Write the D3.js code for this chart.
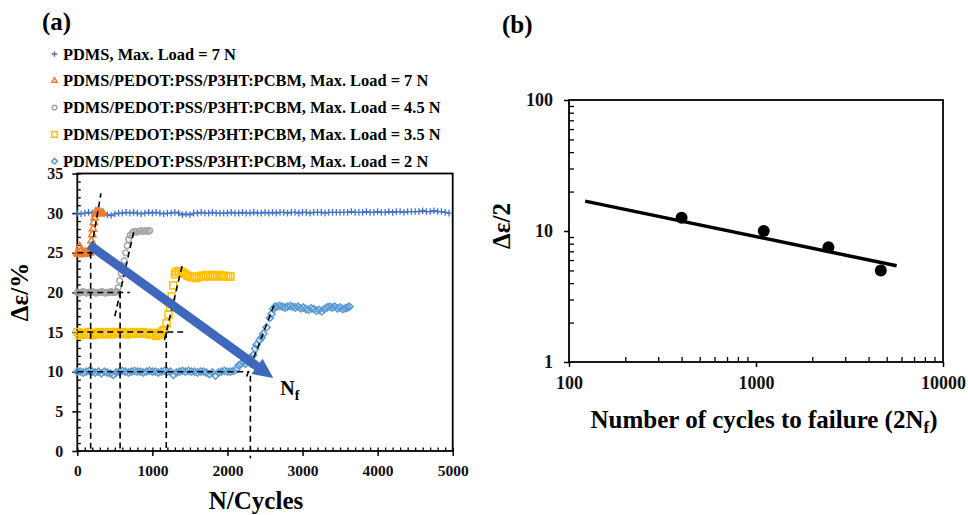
<!DOCTYPE html>
<html>
<head>
<meta charset="utf-8">
<script src="https://cdn.jsdelivr.net/npm/d3@7"></script>
<style>
  body { margin: 0; background: #fff; }
  svg { font-family: "Liberation Serif", "Times New Roman", serif; font-weight: bold; }
</style>
</head>
<body>
<svg id="chart" width="968" height="515"></svg>
<script>
// ---------- data, panel (a) ----------
// PDMS 7 N: strain amplitude recorded every 50 cycles, 0 .. 4950
var pdmsStep = 50;
var pdmsValues = [
  30.0,29.9,30.0,30.1,30.0,29.9,30.0,30.0,29.8,29.7,
  29.9,30.0,30.0,30.1,30.0,30.1,30.0,29.9,30.0,30.1,
  30.0,30.1,30.0,29.9,30.0,30.0,30.1,30.0,29.8,29.9,
  29.8,30.0,30.0,30.1,30.0,30.0,30.1,30.0,30.0,30.0,
  30.0,30.1,30.0,30.0,30.1,30.0,30.0,30.1,30.0,30.0,
  30.1,30.0,30.1,30.0,30.1,30.1,30.0,30.1,30.1,30.0,
  30.1,30.1,30.0,30.1,30.1,30.1,30.0,30.1,30.1,30.1,
  30.1,30.1,30.1,30.2,30.1,30.1,30.1,30.2,30.1,30.1,
  30.2,30.1,30.1,30.2,30.1,30.2,30.2,30.1,30.2,30.2,
  30.2,30.2,30.3,30.2,30.2,30.3,30.2,30.2,30.1,30.0
];

// [cycles, strain %]
var comp7N = [
  [0,25.0],[15,24.8],[30,25.8],[45,25.2],[60,24.9],[75,25.0],[90,24.8],[105,25.1],
  [120,24.9],[135,25.0],[150,25.2],[165,25.0],[180,25.6],[190,26.5],[200,27.3],
  [210,28.0],[220,28.8],[230,29.4],[240,29.9],[250,30.2],[265,30.1],[280,30.0],
  [295,30.1],[310,29.9],[325,30.0],[340,30.0]
];

var comp45N = [
  [0,20.0],[25,19.9],[50,20.0],[75,20.1],[100,20.0],[125,19.9],[150,20.0],[175,20.0],
  [200,20.1],[225,20.0],[250,19.9],[275,20.0],[300,20.0],[325,20.1],[350,20.0],
  [375,19.9],[400,20.0],[425,20.0],[450,20.1],[475,20.0],[500,20.0],[525,20.1],
  [545,20.6],[565,21.5],[585,22.4],[605,23.3],[625,24.0],[645,25.0],[665,25.9],
  [685,26.7],[705,27.2],[730,27.5],[760,27.7],[790,27.6],[820,27.7],[850,27.8],
  [880,27.7],[910,27.8],[940,27.7],[965,27.8]
];

var comp35N = [
  [0,15.0],[30,14.6],[60,14.8],[90,14.9],[120,14.7],[150,15.0],[180,14.8],[210,14.6],
  [240,14.9],[270,14.8],[300,15.0],[330,14.7],[360,14.9],[390,14.8],[420,15.0],
  [450,14.7],[480,14.8],[510,15.0],[540,14.9],[570,14.8],[600,15.0],[630,14.9],
  [660,14.7],[690,14.9],[720,14.8],[750,15.0],[780,14.9],[810,14.8],[840,14.9],
  [870,15.0],[900,14.8],[930,14.9],[960,14.7],[990,14.8],[1020,14.9],[1050,14.5],
  [1080,14.6],[1110,14.8],[1135,15.1],[1160,15.3],[1190,16.1],[1215,17.2],
  [1235,18.1],[1257,19.5],[1278,20.9],[1300,22.3],[1320,22.6],[1350,22.7],
  [1380,22.6],[1410,22.5],[1440,22.3],[1470,22.1],[1500,22.0],[1530,21.9],
  [1560,22.0],[1590,21.8],[1620,22.0],[1650,22.1],[1680,22.0],[1710,22.2],
  [1740,22.1],[1770,22.0],[1800,22.2],[1830,22.1],[1860,22.0],[1890,22.2],
  [1920,22.1],[1950,22.0],[1980,22.1],[2010,22.0],[2040,22.0]
];

var comp2N = [
  [0,10.0],[40,10.0],[80,9.9],[120,10.0],[160,10.1],[200,10.0],[240,9.9],[280,10.0],
  [320,9.8],[360,10.0],[400,9.9],[440,9.8],[480,9.6],[520,9.9],[560,10.0],[600,10.1],
  [640,10.0],[680,9.9],[720,10.0],[760,10.1],[800,10.0],[840,10.0],[880,9.9],
  [920,10.0],[960,10.1],[1000,10.0],[1040,10.0],[1080,9.9],[1120,10.0],[1160,10.1],
  [1200,10.0],[1240,10.0],[1280,9.6],[1320,9.9],[1360,10.0],[1400,10.1],[1440,10.0],
  [1480,10.1],[1520,10.0],[1560,10.0],[1600,9.9],[1640,10.0],[1680,10.0],[1720,9.9],
  [1760,9.7],[1800,9.9],[1840,9.5],[1880,9.9],[1920,10.0],[1960,10.1],[2000,10.0],
  [2040,10.0],[2080,10.1],[2120,10.3],[2150,10.8],[2180,11.0],[2210,11.2],
  [2240,11.0],[2270,11.3],[2310,11.8],[2344,12.1],[2370,12.9],[2388,13.4],
  [2430,14.0],[2455,14.3],[2477,14.8],[2520,15.6],[2566,16.8],[2589,17.3],
  [2610,17.9],[2633,18.2],[2660,18.2],[2695,18.3],[2730,18.2],[2765,18.1],
  [2800,18.2],[2835,18.3],[2870,18.2],[2905,18.1],[2940,18.2],[2975,18.0],
  [3010,18.1],[3045,17.9],[3080,17.8],[3115,18.0],[3150,17.9],[3185,17.7],
  [3220,17.8],[3255,17.6],[3290,17.9],[3325,18.1],[3360,18.2],[3395,18.1],
  [3430,18.2],[3465,18.0],[3500,18.1],[3535,17.9],[3570,18.0],[3600,18.1],[3625,18.2]
];

// black dashed construction lines (baselines, drops to N axis, tangents)
var guideLines = [
  [[0,25],[395,25]], [[0,20],[700,20]], [[0,15],[1410,15]], [[0,10],[2290,10]],
  [[178,25],[178,0]], [[570,20],[570,0]], [[1185,15],[1185,0]], [[2305,9.5],[2305,-0.9]],
  [[170,24.5],[315,32.5]], [[500,17],[760,28]], [[1160,14],[1405,23.7]], [[2255,9.4],[2620,18.4]]
];

// big arrow pointing to the N_f trend
var arrowFrom = [160, 26];
var arrowTo = [2610, 9.2];

var legendLabels = [
  "PDMS, Max. Load = 7 N",
  "PDMS/PEDOT:PSS/P3HT:PCBM, Max. Load = 7 N",
  "PDMS/PEDOT:PSS/P3HT:PCBM, Max. Load = 4.5 N",
  "PDMS/PEDOT:PSS/P3HT:PCBM, Max. Load = 3.5 N",
  "PDMS/PEDOT:PSS/P3HT:PCBM, Max. Load = 2 N"
];
var seriesColors = ["#4472C4", "#ED7D31", "#A5A5A5", "#FFC000", "#5B9BD5"];

// ---------- data, panel (b) ----------
var failureCycles = [400, 1100, 2440, 4650];   // 2Nf
var strainAmp = [12.6, 10.0, 7.5, 5.0];         // delta eps / 2
var fitCycles = [122, 5650];
var fitAmp = [16.9, 5.43];

var svg = d3.select('#chart');
svg.append('rect').attr('width', 968).attr('height', 515).attr('fill', '#fff');

// marker drawing
function marker(sel, kind, color, s) {
  if (kind === 'plus') {
    sel.append('path').attr('d', 'M' + (-s) + ',0H' + s + 'M0,' + (-s) + 'V' + s)
      .attr('stroke', color).attr('stroke-width', 1.3).attr('fill', 'none');
  } else if (kind === 'triangle') {
    sel.append('path').attr('d', d3.symbol().type(d3.symbolTriangle).size(s * s * 1.6)())
      .attr('stroke', color).attr('stroke-width', 1.5).attr('fill', 'none');
  } else if (kind === 'circle') {
    sel.append('circle').attr('r', s * 0.85)
      .attr('stroke', color).attr('stroke-width', 1.5).attr('fill', 'none');
  } else if (kind === 'square') {
    sel.append('rect').attr('x', -s).attr('y', -s).attr('width', 2 * s).attr('height', 2 * s)
      .attr('stroke', color).attr('stroke-width', 1.5).attr('fill', 'none');
  } else if (kind === 'diamond') {
    sel.append('path').attr('d', 'M0,' + (-s) + 'L' + s + ',0L0,' + s + 'L' + (-s) + ',0Z')
      .attr('stroke', color).attr('stroke-width', 1.5).attr('fill', 'none');
  }
}
var markerKinds = ['plus', 'triangle', 'circle', 'square', 'diamond'];

// strip d3's default axis font so the serif face is inherited
function styleAxis(g, fontSize, lineW) {
  g.attr('font-family', null).attr('font-size', null);
  g.select('.domain').remove();
  g.selectAll('line').attr('stroke-width', lineW);
  g.selectAll('text').attr('font-size', fontSize).attr('font-weight', 'bold').attr('fill', '#111');
}

// ================= PANEL (a) =================
var xA = d3.scaleLinear().domain([0, 5000]).range([77.3, 452.7]);
var yA = d3.scaleLinear().domain([0, 35]).range([451, 173.5]);

svg.append('text').attr('x', 42).attr('y', 30).attr('font-size', 25).text('(a)');

// legend
var legend = svg.append('g');
legendLabels.forEach(function(lab, i) {
  var yy = 59.5 + i * 26.8;
  var m = legend.append('g').attr('transform', 'translate(' + 54.5 + ',' + (yy - 5.5) + ')');
  marker(m, markerKinds[i], seriesColors[i], 2.8);
  legend.append('text').attr('x', 63).attr('y', yy).attr('font-size', 16.4).text(lab);
});

// axes: minor ticks inside, major ticks outside
var gA = svg.append('g');
gA.append('g').attr('transform', 'translate(0,451)')
  .call(d3.axisBottom(xA).tickValues(d3.range(0, 5001, 100)).tickFormat('').tickSize(-3.5).tickSizeOuter(0))
  .call(styleAxis, 15.5, 1.3);
gA.append('g').attr('transform', 'translate(77.3,0)')
  .call(d3.axisLeft(yA).tickValues(d3.range(0, 36, 1)).tickFormat('').tickSize(-3.5).tickSizeOuter(0))
  .call(styleAxis, 16, 1.3);
gA.append('g').attr('transform', 'translate(0,451)')
  .call(d3.axisBottom(xA).tickValues(d3.range(0, 5001, 1000)).tickFormat(d3.format('d')).tickSize(5).tickPadding(9).tickSizeOuter(0))
  .call(styleAxis, 15.5, 1.5);
gA.append('g').attr('transform', 'translate(77.3,0)')
  .call(d3.axisLeft(yA).tickValues(d3.range(0, 36, 5)).tickFormat(d3.format('d')).tickSize(5).tickPadding(9).tickSizeOuter(0))
  .call(styleAxis, 16, 1.5);
gA.append('rect').attr('x', xA(0)).attr('y', yA(35)).attr('width', xA(5000) - xA(0)).attr('height', yA(0) - yA(35))
  .attr('fill', 'none').attr('stroke', '#000').attr('stroke-width', 1.8);

// series
var pdmsPoints = pdmsValues.map(function(v, i) { return [i * pdmsStep, v]; });
var allSeries = [pdmsPoints, comp7N, comp45N, comp35N, comp2N];
var markSize = [3.3, 3.8, 3.4, 3.5, 3.6];
allSeries.forEach(function(pts, si) {
  var g = svg.append('g').attr('class', 'series-' + si);
  pts.forEach(function(d) {
    var m = g.append('g').attr('transform', 'translate(' + xA(d[0]) + ',' + yA(d[1]) + ')');
    marker(m, markerKinds[si], seriesColors[si], markSize[si]);
  });
});

// dashed guides
svg.append('g').selectAll('line').data(guideLines).enter().append('line')
  .attr('x1', function(d) { return xA(d[0][0]); })
  .attr('y1', function(d) { return yA(d[0][1]); })
  .attr('x2', function(d) { return xA(d[1][0]); })
  .attr('y2', function(d) { return yA(d[1][1]); })
  .attr('stroke', '#000').attr('stroke-width', 1.6).attr('stroke-dasharray', '6,4');

// arrow
var ax0 = xA(arrowFrom[0]), ay0 = yA(arrowFrom[1]);
var ax1 = xA(arrowTo[0]), ay1 = yA(arrowTo[1]);
var len = Math.hypot(ax1 - ax0, ay1 - ay0);
var ux = (ax1 - ax0) / len, uy = (ay1 - ay0) / len;
var headLen = 20, headHalf = 9.5, shaftHalf = 4.5;
var bx = ax1 - ux * headLen, by = ay1 - uy * headLen;
var arrowPts = [
  [ax0 - uy * shaftHalf, ay0 + ux * shaftHalf],
  [bx - uy * shaftHalf, by + ux * shaftHalf],
  [bx - uy * headHalf, by + ux * headHalf],
  [ax1, ay1],
  [bx + uy * headHalf, by - ux * headHalf],
  [bx + uy * shaftHalf, by - ux * shaftHalf],
  [ax0 + uy * shaftHalf, ay0 - ux * shaftHalf]
];
svg.append('path').attr('d', d3.line()(arrowPts) + 'Z').attr('fill', '#3F67BC');

var nf = svg.append('text').attr('x', ax1 + 7).attr('y', ay1 + 17).attr('font-size', 20);
nf.append('tspan').text('N');
nf.append('tspan').attr('font-size', 14).attr('dy', 5).text('f');

// axis titles
svg.append('text').attr('x', 256).attr('y', 509).attr('text-anchor', 'middle').attr('font-size', 25).text('N/Cycles');
svg.append('text').attr('transform', 'translate(28,292) rotate(-90)').attr('text-anchor', 'middle')
  .attr('font-size', 25).text('Δε/%');

// ================= PANEL (b) =================
var xB = d3.scaleLog().domain([100, 10000]).range([569, 943]);
var yB = d3.scaleLog().domain([1, 100]).range([362, 100]);

svg.append('text').attr('x', 502).attr('y', 33).attr('font-size', 25).text('(b)');

var gB = svg.append('g');
var minorX = [200,300,400,500,600,700,800,900,2000,3000,4000,5000,6000,7000,8000,9000];
var minorY = [2,3,4,5,6,7,8,9,20,30,40,50,60,70,80,90];
gB.append('g').attr('transform', 'translate(0,362)')
  .call(d3.axisBottom(xB).tickValues(minorX).tickFormat('').tickSize(-5).tickSizeOuter(0))
  .call(styleAxis, 18, 1.3);
gB.append('g').attr('transform', 'translate(569,0)')
  .call(d3.axisLeft(yB).tickValues(minorY).tickFormat('').tickSize(-5).tickSizeOuter(0))
  .call(styleAxis, 18, 1.3);
gB.append('g').attr('transform', 'translate(0,362)')
  .call(d3.axisBottom(xB).tickValues([100, 1000, 10000]).tickFormat(d3.format('d')).tickSize(5).tickPadding(9).tickSizeOuter(0))
  .call(styleAxis, 18, 1.5);
gB.append('g').attr('transform', 'translate(569,0)')
  .call(d3.axisLeft(yB).tickValues([1, 10, 100]).tickFormat(d3.format('d')).tickSize(5).tickPadding(11).tickSizeOuter(0))
  .call(styleAxis, 18, 1.5);
gB.append('rect').attr('x', xB(100)).attr('y', yB(100)).attr('width', xB(10000) - xB(100)).attr('height', yB(1) - yB(100))
  .attr('fill', 'none').attr('stroke', '#000').attr('stroke-width', 1.8);

var fitLine = d3.line().x(function(d) { return xB(d[0]); }).y(function(d) { return yB(d[1]); });
svg.append('path').datum(fitCycles.map(function(c, i) { return [c, fitAmp[i]]; }))
  .attr('d', fitLine).attr('stroke', '#000').attr('stroke-width', 3.5).attr('fill', 'none');

svg.append('g').selectAll('circle').data(failureCycles).enter().append('circle')
  .attr('cx', function(d) { return xB(d); })
  .attr('cy', function(d, i) { return yB(strainAmp[i]); })
  .attr('r', 6).attr('fill', '#000');

var xt = svg.append('text').attr('x', 764).attr('y', 428).attr('text-anchor', 'middle').attr('font-size', 25);
xt.append('tspan').text('Number of cycles to failure (2N');
xt.append('tspan').attr('font-size', 17).attr('dy', 5).text('f');
xt.append('tspan').attr('dy', -5).text(')');
svg.append('text').attr('transform', 'translate(510,226) rotate(-90)').attr('text-anchor', 'middle')
  .attr('font-size', 25).text('Δε/2');
</script>
</body>
</html>
